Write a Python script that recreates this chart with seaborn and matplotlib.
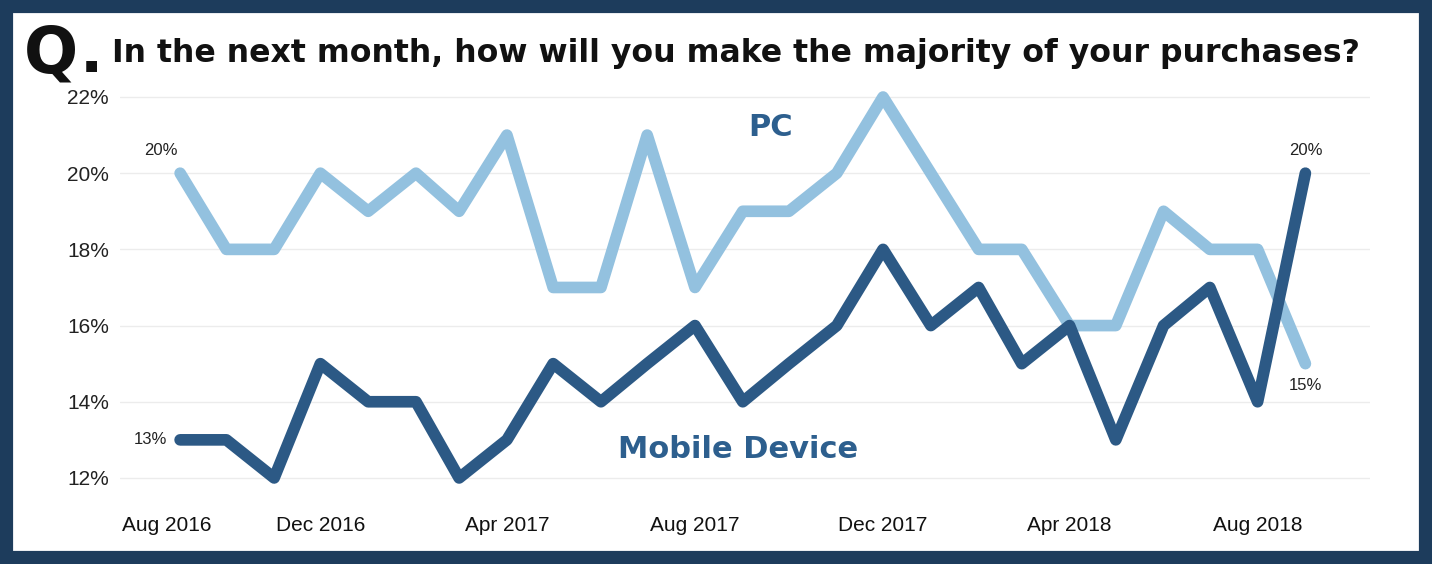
import pandas as pd
import matplotlib
matplotlib.use("Agg")
import matplotlib.pyplot as plt
import matplotlib.transforms as mtransforms
from matplotlib.patches import Rectangle
import seaborn as sns

months = pd.date_range("2016-09-01", periods=25, freq="MS")
pc = [20, 18, 18, 20, 19, 20, 19, 21, 17, 17, 21, 17, 19,
      19, 20, 22, 20, 18, 18, 16, 16, 19, 18, 18, 15]
mobile = [13, 13, 12, 15, 14, 14, 12, 13, 15, 14, 15, 16, 14,
          15, 16, 18, 16, 17, 15, 16, 13, 16, 17, 14, 20]
tick_dates = pd.to_datetime(["2016-08-01", "2016-12-01", "2017-04-01", "2017-08-01",
                             "2017-12-01", "2018-04-01", "2018-08-01"])
tick_labels = ["Aug 2016", "Dec 2016", "Apr 2017", "Aug 2017",
               "Dec 2017", "Apr 2018", "Aug 2018"]
yticks = [12, 14, 16, 18, 20, 22]

df = pd.concat([
    pd.DataFrame({"month": months, "share": pc, "device": "PC"}),
    pd.DataFrame({"month": months, "share": mobile, "device": "Mobile Device"}),
])

sns.set_style("white")
plt.rcParams["font.family"] = ["Liberation Sans", "DejaVu Sans"]

fig = plt.figure(figsize=(14.32, 5.64), dpi=100)
ax = fig.add_axes([0.0838, 0.1188, 0.873, 0.743])

palette = {"PC": "#93c1df", "Mobile Device": "#2c5985"}
sns.lineplot(data=df, x="month", y="share", hue="device", palette=palette,
             linewidth=8.4, legend=False, ax=ax,
             solid_capstyle="round", solid_joinstyle="round")

ax.set_ylim(11.5, 22.5)
ax.set_xlim(months[0] - pd.Timedelta(days=39), months[-1] + pd.Timedelta(days=42))
ax.set_yticks(yticks)
ax.set_yticklabels([f"{v}%" for v in yticks], fontsize=15, color="#222222")
ax.set_xticks(tick_dates)
ax.set_xticklabels(tick_labels, fontsize=15, color="#111111")
ax.tick_params(axis="y", length=0, pad=8)
ax.tick_params(axis="x", length=0, pad=14)
# first label sits flush with the plot's left edge
first = ax.get_xticklabels()[0]
first.set_horizontalalignment("left")
first.set_transform(first.get_transform() +
                    mtransforms.ScaledTranslation(-10 / 100, 0, fig.dpi_scale_trans))
ax.grid(axis="y", color="#ececec", linewidth=1)
ax.set_xlabel("")
ax.set_ylabel("")
sns.despine(ax=ax, left=True, bottom=True)

# end-point labels
ax.annotate(f"{pc[0]}%", (months[0], pc[0]), xytext=(-14, 16), textcoords="offset points",
            ha="center", va="center", fontsize=12, color="#222222")
ax.annotate(f"{mobile[0]}%", (months[0], mobile[0]), xytext=(-9, 0), textcoords="offset points",
            ha="right", va="center", fontsize=12, color="#222222")
ax.annotate(f"{mobile[-1]}%", (months[-1], mobile[-1]), xytext=(0, 16), textcoords="offset points",
            ha="center", va="center", fontsize=12, color="#222222")
ax.annotate(f"{pc[-1]}%", (months[-1], pc[-1]), xytext=(0, -16), textcoords="offset points",
            ha="center", va="center", fontsize=12, color="#222222")

# series names
ax.text(pd.Timestamp("2017-09-19"), 21.2, "PC", color="#2d5f8e", fontsize=22,
        fontweight="bold", ha="center", va="center", family="DejaVu Sans")
ax.text(pd.Timestamp("2017-08-29"), 12.75, "Mobile Device", color="#2d5f8e", fontsize=22,
        fontweight="bold", ha="center", va="center", family="DejaVu Sans")

# title
fig.text(24 / 1432, 1 - 72 / 564, "Q", fontsize=46, fontweight="bold",
         family="DejaVu Sans", color="#111111", va="baseline")
fig.text(80 / 1432, 1 - 72 / 564, ".", fontsize=44, fontweight="bold",
         family="DejaVu Sans", color="#111111", va="baseline")
fig.text(112 / 1432, 1 - 62 / 564, "In the next month, how will you make the majority of your purchases?",
         fontsize=22.7, fontweight="bold", family="DejaVu Sans", color="#111111", va="baseline")

# frame
fig.patches.append(Rectangle((0.0045, 0.012), 0.9905, 0.978, transform=fig.transFigure,
                             fill=False, edgecolor="#1d3c5c", linewidth=9.5))

fig.savefig("out.png", dpi=100)
